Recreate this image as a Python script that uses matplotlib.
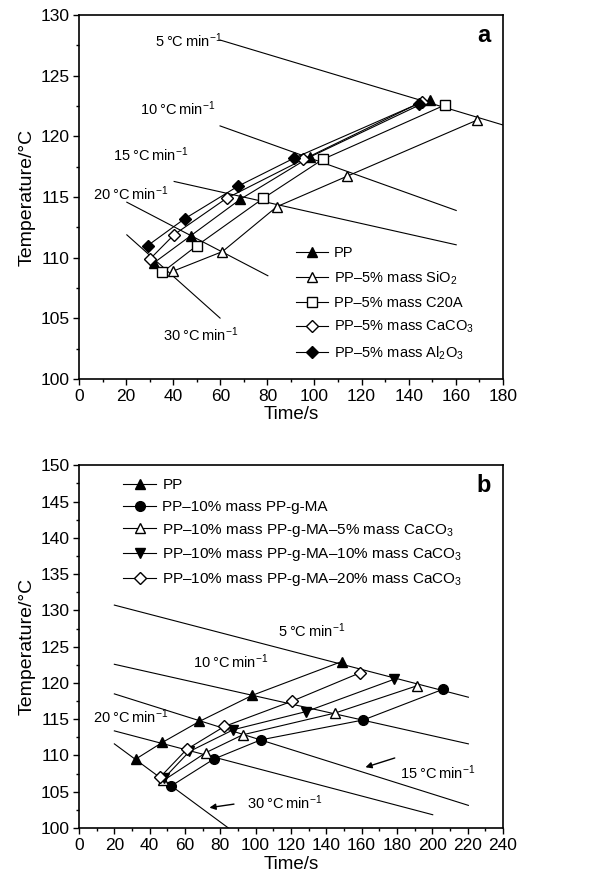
import matplotlib
matplotlib.use("Agg")
import matplotlib.pyplot as plt
from matplotlib.ticker import MultipleLocator
from matplotlib.lines import Line2D

plt.rcParams['font.family'] = ['Liberation Sans', 'DejaVu Sans']
plt.rcParams['mathtext.fontset'] = 'custom'
plt.rcParams['mathtext.rm'] = 'Liberation Sans'
plt.rcParams['mathtext.it'] = 'Liberation Sans'
plt.rcParams['mathtext.default'] = 'regular'

# ---- panel a data ----
a_pp_t = [32.0, 47.4, 68.4, 98.1, 149.1]
a_pp_T = [109.6, 111.8, 114.8, 118.3, 123.0]
a_sio2_t = [40.1, 60.9, 84.0, 113.7, 169.2]
a_sio2_T = [108.9, 110.5, 114.2, 116.7, 121.35]
a_c20a_t = [35.4, 50.1, 78.3, 103.5, 155.6]
a_c20a_T = [108.8, 111.0, 114.9, 118.1, 122.6]
a_caco3_t = [30.2, 40.4, 62.7, 95.3, 145.6]
a_caco3_T = [109.9, 111.9, 114.9, 118.1, 122.85]
a_al2o3_t = [29.2, 44.8, 67.6, 91.3, 144.2]
a_al2o3_T = [111.0, 113.2, 115.9, 118.2, 122.7]

# isoconversion lines (start, end)
a_iso_t = {'5': [59.9, 180.0], '10': [59.9, 160.2], '15': [40.4, 160.2],
           '20': [20.3, 80.2], '30': [20.3, 59.9]}
a_iso_T = {'5': [127.94, 120.94], '10': [120.86, 113.89], '15': [116.28, 111.06],
           '20': [114.57, 108.51], '30': [111.88, 105.02]}
a_rate_lbl = {'5': (32.3, 127.9), '10': (25.9, 122.3), '15': (14.6, 118.5),
              '20': (6.1, 115.3), '30': (35.8, 103.65)}

# ---- panel b data ----
b_pp_t = [32.1, 47.2, 68.2, 98.2, 148.8]
b_pp_T = [109.5, 111.8, 114.7, 118.3, 122.95]
b_ma_t = [51.9, 76.3, 102.9, 161.1, 206.4]
b_ma_T = [105.75, 109.5, 112.15, 114.9, 119.15]
b_c5_t = [47.8, 71.9, 92.7, 145.0, 191.3]
b_c5_T = [106.55, 110.4, 112.85, 115.85, 119.6]
b_c10_t = [48.3, 62.5, 87.4, 128.6, 178.4]
b_c10_T = [106.9, 110.55, 113.55, 116.05, 120.5]
b_c20_t = [45.9, 61.0, 82.3, 120.8, 159.2]
b_c20_T = [107.0, 110.85, 114.0, 117.5, 121.4]

b_iso_t = {'5': [20.0, 220.5], '10': [20.0, 220.5], '15': [20.0, 220.5],
           '20': [20.0, 200.3], '30': [20.0, 84.6]}
b_iso_T = {'5': [130.73, 118.03], '10': [122.57, 111.6], '15': [118.49, 103.12],
           '20': [113.39, 101.83], '30': [111.6, 100.0]}
b_rate_lbl = {'5': (112.9, 127.2), '10': (64.8, 122.9), '20': (7.7, 115.3),
              '15': (181.8, 107.6), '30': (95.0, 103.45)}

rate_text = {k: k + '\u2009°C\u2009min$^{-1}$' for k in ['5', '10', '15', '20', '30']}

lw = 0.8
ms = 7

fig = plt.figure(figsize=(6.08, 8.89), dpi=100)
ax1 = fig.add_axes([0.130, 0.5737, 0.697, 0.4094])
ax2 = fig.add_axes([0.130, 0.0686, 0.697, 0.408])


def style(ax, xmax, ymax):
    ax.set_xlim(0, xmax)
    ax.set_ylim(100, ymax)
    ax.xaxis.set_major_locator(MultipleLocator(20))
    ax.xaxis.set_minor_locator(MultipleLocator(10))
    ax.yaxis.set_major_locator(MultipleLocator(5))
    ax.yaxis.set_minor_locator(MultipleLocator(2.5))
    ax.tick_params(which='major', direction='out', length=4, width=1, labelsize=12.5, pad=3)
    ax.tick_params(which='minor', direction='out', length=2.5, width=1)
    for s in ax.spines.values():
        s.set_linewidth(1.2)
    ax.set_xlabel('Time/s', fontsize=13.5, labelpad=2)
    ax.set_ylabel('Temperature/°C', fontsize=14, labelpad=3)


def handle(marker, fill):
    return Line2D([], [], color='black', lw=lw, marker=marker,
                  markersize=ms if marker != 'D' else ms - 1,
                  markerfacecolor='black' if fill else 'white', markeredgecolor='black')


# panel a
for k in a_iso_t:
    ax1.plot(a_iso_t[k], a_iso_T[k], color='black', lw=lw)
    ax1.text(a_rate_lbl[k][0], a_rate_lbl[k][1], rate_text[k], fontsize=10.5,
             ha='left', va='center')
series_a = [(a_pp_t, a_pp_T, '^', True), (a_sio2_t, a_sio2_T, '^', False),
            (a_c20a_t, a_c20a_T, 's', False), (a_caco3_t, a_caco3_T, 'D', False),
            (a_al2o3_t, a_al2o3_T, 'D', True)]
for t, T, m, f in series_a:
    ax1.plot(t, T, color='black', lw=lw, marker=m, markersize=ms if m != 'D' else ms - 1,
             markerfacecolor='black' if f else 'white', markeredgecolor='black')
labels_a = ['PP', 'PP–5% mass SiO$_2$', 'PP–5% mass C20A', 'PP–5% mass CaCO$_3$',
            'PP–5% mass Al$_2$O$_3$']
ax1.legend([handle(m, f) for _, _, m, f in series_a], labels_a, frameon=False,
           fontsize=10.5, loc='upper left', bbox_to_anchor=(0.495, 0.385),
           handlelength=2.2, handletextpad=0.4, labelspacing=0.62, borderpad=0)
ax1.text(171.8, 128.35, 'a', fontsize=17, fontweight='bold', ha='center', va='center')
style(ax1, 180, 130)

# panel b
for k in b_iso_t:
    ax2.plot(b_iso_t[k], b_iso_T[k], color='black', lw=lw)
    ax2.text(b_rate_lbl[k][0], b_rate_lbl[k][1], rate_text[k], fontsize=10.5,
             ha='left', va='center')
ax2.annotate('', xy=(160.7, 108.26), xytext=(180.3, 109.77),
             arrowprops=dict(arrowstyle='-|>', color='black', lw=1, mutation_scale=9))
ax2.annotate('', xy=(72.3, 102.75), xytext=(89.3, 103.35),
             arrowprops=dict(arrowstyle='-|>', color='black', lw=1, mutation_scale=9))
series_b = [(b_pp_t, b_pp_T, '^', True), (b_ma_t, b_ma_T, 'o', True),
            (b_c5_t, b_c5_T, '^', False), (b_c10_t, b_c10_T, 'v', True),
            (b_c20_t, b_c20_T, 'D', False)]
for t, T, m, f in series_b:
    ax2.plot(t, T, color='black', lw=lw, marker=m, markersize=ms if m != 'D' else ms - 1,
             markerfacecolor='black' if f else 'white', markeredgecolor='black')
labels_b = ['PP', 'PP–10% mass PP-g-MA', 'PP–10% mass PP-g-MA–5% mass CaCO$_3$',
            'PP–10% mass PP-g-MA–10% mass CaCO$_3$', 'PP–10% mass PP-g-MA–20% mass CaCO$_3$']
ax2.legend([handle(m, f) for _, _, m, f in series_b], labels_b, frameon=False,
           fontsize=11, loc='upper left', bbox_to_anchor=(0.085, 0.985),
           handlelength=2.2, handletextpad=0.4, labelspacing=0.5, borderpad=0)
ax2.text(229, 147.25, 'b', fontsize=17, fontweight='bold', ha='center', va='center')
style(ax2, 240, 150)

fig.savefig('out.png', dpi=100)
